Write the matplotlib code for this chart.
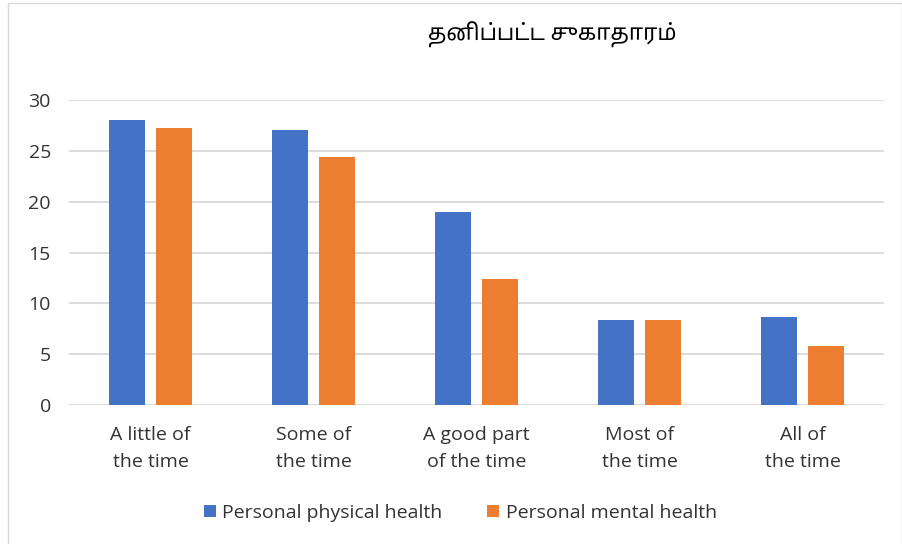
import matplotlib.pyplot as plt
import numpy as np
from matplotlib.patches import Rectangle

categories = ["A little of\nthe time", "Some of\nthe time", "A good part\nof the time",
              "Most of\nthe time", "All of\nthe time"]
physical = [28.0, 27.1, 19.0, 8.4, 8.7]
mental = [27.3, 24.4, 12.4, 8.4, 5.8]
yticks = [0, 5, 10, 15, 20, 25, 30]
title = "தனிப்பட்ட சுகாதாரம்"

plt.rcParams['font.family'] = ['Open Sans', 'DejaVu Sans']

fig = plt.figure(figsize=(9.03, 5.44), dpi=100)
ax = fig.add_axes([0.0764, 0.2555, 0.9026, 0.5605])

x = np.arange(len(categories))
w = 0.22
ax.bar(x - 0.143, physical, w, color="#4472C4", label="Personal physical health", zorder=3)
ax.bar(x + 0.143, mental, w, color="#ED7D31", label="Personal mental health", zorder=3)

ax.set_xlim(-0.5, len(categories) - 0.5)
ax.set_ylim(0, 30)
ax.set_yticks(yticks)
ax.set_xticks(x)
ax.set_xticklabels(categories, fontsize=14, linespacing=1.65, color="#333333")
ax.tick_params(axis='y', labelsize=14, colors="#333333", length=0, pad=13)
ax.tick_params(axis='x', length=0, pad=15)
ax.grid(axis='y', color="#d9d9d9", linewidth=1.3, zorder=0)
for s in ax.spines.values():
    s.set_visible(False)

fig.text(0.612, 0.936, title, ha='center', va='center', fontsize=16,
         family=['Noto Sans Tamil', 'DejaVu Sans'])

fig.legend(loc='center', bbox_to_anchor=(0.51, 0.057), ncol=2, frameon=False,
           fontsize=14, handlelength=0.6, handleheight=0.6, handletextpad=0.35,
           columnspacing=2.3, labelcolor="#333333")

fig.patches.append(Rectangle((0.009, -0.01), 0.99, 1.004, transform=fig.transFigure,
                             fill=False, edgecolor="#d9d9d9", linewidth=1))

fig.savefig("out.png", dpi=100)
